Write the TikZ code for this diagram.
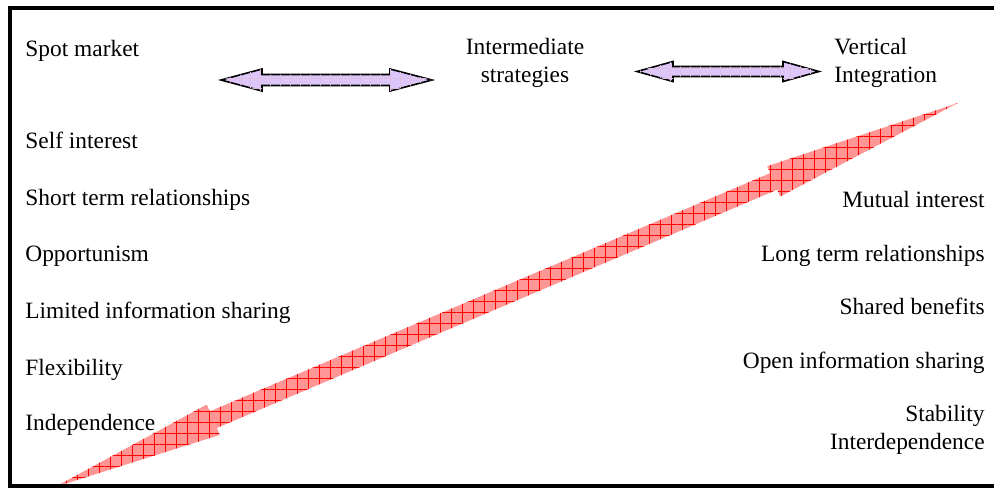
\documentclass[tikz,border=0pt]{standalone}
\usepackage{fontspec}
\setmainfont{Liberation Serif}
\usetikzlibrary{patterns.meta}
\definecolor{lilac}{RGB}{221,198,250}
\definecolor{salmon}{RGB}{255,150,150}

\tikzset{
  lab/.style={inner sep=0pt, font=\fontsize{11.7}{14}\selectfont},
  lilacarrow/.style={draw=black, line width=0.8pt, fill=lilac,
    postaction={pattern={Hatch[angle=0,distance=5pt,line width=0.15pt]}, pattern color=violet!25}},
  bigarrow/.style={fill=salmon,
    postaction={pattern={Hatch[angle=0,distance=5.5pt,line width=0.25pt]}, pattern color=red}}
}

\begin{document}
\begin{tikzpicture}[x=0.5pt, y=-0.5pt]
\useasboundingbox (0,0) rectangle (994,488);

% long arrow from independence to interdependence
\begin{scope}[shift={(55,487)}, rotate=23.04]
\fill[bigarrow] (0,0) -- (172,-16.5) -- (172,-9) -- (781,-9) -- (781,-16.5) -- (981,0)
  -- (781,16.5) -- (781,9) -- (172,9) -- (172,16.5) -- cycle;
\end{scope}

% arrows between the three forms
\draw[lilacarrow] (221,80) -- (262,69) -- (262,74.5) -- (390,74.5) -- (390,69) -- (432,80)
  -- (390,91) -- (390,85.5) -- (262,85.5) -- (262,91) -- cycle;
\draw[lilacarrow] (637,71.5) -- (673,61.5) -- (673,66.5) -- (783,66.5) -- (783,61.5) -- (819,71.5)
  -- (783,81.5) -- (783,76.5) -- (673,76.5) -- (673,81.5) -- cycle;

% headings
\node[lab, anchor=base west] (spot) at (25,56) {Spot market};
\node[lab, anchor=base] (inter1) at (525,54) {Intermediate};
\node[lab, anchor=base] (inter2) at (525,82) {strategies};
\node[lab, anchor=base west] (vert1) at (834,54) {Vertical};
\node[lab, anchor=base west] (vert2) at (834,82) {Integration};

% left column
\node[lab, anchor=base west] (self) at (25,148) {Self interest};
\node[lab, anchor=base west] (short) at (25,205) {Short term relationships};
\node[lab, anchor=base west] (opp) at (25,261) {Opportunism};
\node[lab, anchor=base west] (limited) at (25,318) {Limited information sharing};
\node[lab, anchor=base west] (flex) at (25,375) {Flexibility};
\node[lab, anchor=base west] (indep) at (25,430) {Independence};

% right column
\node[lab, anchor=base east] (mutual) at (985,207) {Mutual interest};
\node[lab, anchor=base east] (long) at (985,261) {Long term relationships};
\node[lab, anchor=base east] (shared) at (985,314) {Shared benefits};
\node[lab, anchor=base east] (open) at (985,368) {Open information sharing};
\node[lab, anchor=base east] (stab) at (985,421) {Stability};
\node[lab, anchor=base east] (interdep) at (985,449) {Interdependence};

% frame, open on the right
\draw[line width=2pt] (994,8) -- (10,8) -- (10,486) -- (994,486);
\end{tikzpicture}
\end{document}
